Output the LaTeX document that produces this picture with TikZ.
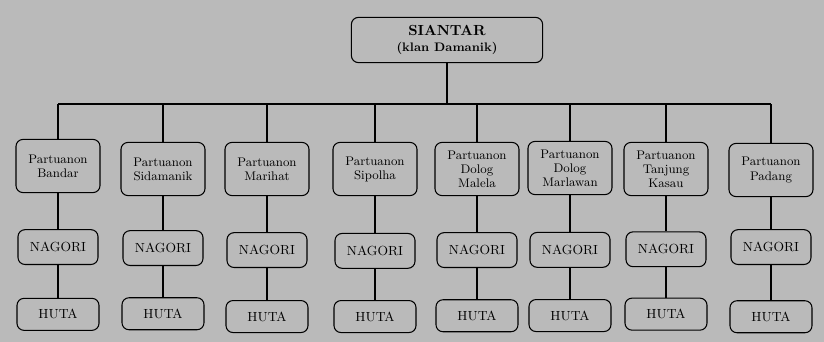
\documentclass[tikz,border=0pt]{standalone}
\usepackage{tikz}
\usetikzlibrary{positioning}

\begin{document}
\begin{tikzpicture}[
  x=0.025cm, y=-0.025cm,
  font=\fontsize{8.9}{10}\selectfont,
  box/.style={draw, line width=0.75pt, rounded corners=5pt, align=center, inner sep=1pt},
  topbox/.style={box, minimum width=4.78cm, minimum height=1.13cm, font=\bfseries},
  pbox/.style={box, minimum width=2.1cm, minimum height=1.33cm},
  nbox/.style={box, minimum width=2.0cm, minimum height=0.87cm, font=\fontsize{9.4}{11}\selectfont},
  hbox/.style={box, minimum width=2.05cm, minimum height=0.8cm, font=\fontsize{9.4}{11}\selectfont},
  link/.style={line width=0.75pt}
]

% background (scanned page)
\fill[black!27] (0,0) rectangle (824,342);
\useasboundingbox (0,0) rectangle (824,342);

% Top node
\node[topbox] (siantar) at (447,40) {{\fontsize{10.4}{12.5}\selectfont SIANTAR}\\{\fontsize{8.8}{11}\selectfont (klan Damanik)}};

% Partuanon
\node[pbox] (p1) at (58,166) {Partuanon\\Bandar};
\node[pbox] (p2) at (163,169) {Partuanon\\Sidamanik};
\node[pbox] (p3) at (267,169) {Partuanon\\Marihat};
\node[pbox] (p4) at (375,169) {Partuanon\\Sipolha};
\node[pbox] (p5) at (477,169) {Partuanon\\Dolog\\Malela};
\node[pbox] (p6) at (570,168) {Partuanon\\Dolog\\Marlawan};
\node[pbox] (p7) at (666,169) {Partuanon\\Tanjung\\Kasau};
\node[pbox] (p8) at (771,170) {Partuanon\\Padang};

% Nagori
\node[nbox, below=0.9cm of p1] (n1) {NAGORI};
\node[nbox, below=0.85cm of p2] (n2) {NAGORI};
\node[nbox, below=0.9cm of p3] (n3) {NAGORI};
\node[nbox, below=0.92cm of p4] (n4) {NAGORI};
\node[nbox, below=0.9cm of p5] (n5) {NAGORI};
\node[nbox, below=0.92cm of p6] (n6) {NAGORI};
\node[nbox, below=0.88cm of p7] (n7) {NAGORI};
\node[nbox, below=0.8cm of p8] (n8) {NAGORI};

% Huta
\node[hbox, below=0.82cm of n1] (h1) {HUTA};
\node[hbox, below=0.78cm of n2] (h2) {HUTA};
\node[hbox, below=0.8cm of n3] (h3) {HUTA};
\node[hbox, below=0.78cm of n4] (h4) {HUTA};
\node[hbox, below=0.78cm of n5] (h5) {HUTA};
\node[hbox, below=0.78cm of n6] (h6) {HUTA};
\node[hbox, below=0.76cm of n7] (h7) {HUTA};
\node[hbox, below=0.88cm of n8] (h8) {HUTA};

% Bar under the top node
\coordinate (barL) at (58,104);
\coordinate (barR) at (771,104);
\draw[link] (barL) -- (barR);
\draw[link] (siantar) -- (siantar |- barL);

% Drops to each partuanon
\draw[link] (p1.north) -- (p1 |- barL);
\draw[link] (p2.north) -- (p2 |- barL);
\draw[link] (p3.north) -- (p3 |- barL);
\draw[link] (p4.north) -- (p4 |- barL);
\draw[link] (p5.north) -- (p5 |- barL);
\draw[link] (p6.north) -- (p6 |- barL);
\draw[link] (p7.north) -- (p7 |- barL);
\draw[link] (p8.north) -- (p8 |- barL);

% Columns
\draw[link] (p1) -- (n1);  \draw[link] (n1) -- (h1);
\draw[link] (p2) -- (n2);  \draw[link] (n2) -- (h2);
\draw[link] (p3) -- (n3);  \draw[link] (n3) -- (h3);
\draw[link] (p4) -- (n4);  \draw[link] (n4) -- (h4);
\draw[link] (p5) -- (n5);  \draw[link] (n5) -- (h5);
\draw[link] (p6) -- (n6);  \draw[link] (n6) -- (h6);
\draw[link] (p7) -- (n7);  \draw[link] (n7) -- (h7);
\draw[link] (p8) -- (n8);  \draw[link] (n8) -- (h8);

\end{tikzpicture}
\end{document}
